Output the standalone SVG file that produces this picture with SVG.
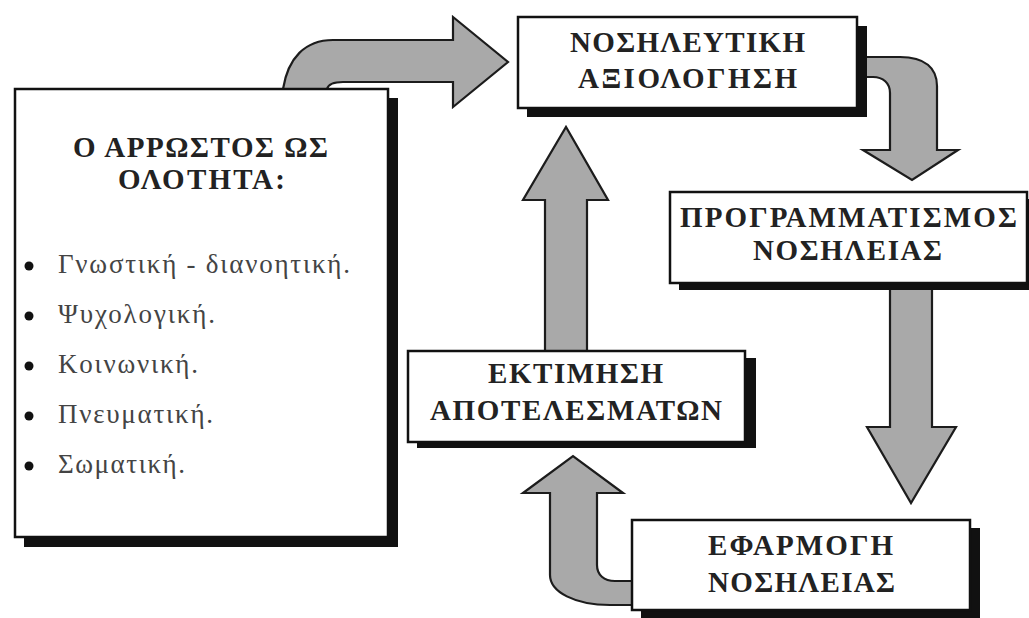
<svg xmlns="http://www.w3.org/2000/svg" width="1029" height="618" viewBox="0 0 1029 618">
<style>
.bg{fill:#ffffff}
.arrow{fill:#a9a9a9;stroke:#1c1c1c;stroke-width:2.2;stroke-linejoin:miter}
.shadow{fill:#111111}
.box{fill:#ffffff;stroke:#111111;stroke-width:2.5}
.title{font-family:"Liberation Serif","Times New Roman",serif;font-weight:bold;font-size:29px;fill:#222222}
.item{font-family:"Liberation Serif","Times New Roman",serif;font-size:27px;fill:#444444}
.dot{fill:#111111}
</style>
<rect class="bg" x="0" y="0" width="1029" height="618"/>
<g id="connectors">
<path class="arrow" d="M283,89 C288,58 305,40 333,40 L453,40 L453,17 L508,62 L453,107 L453,82 L343,82 C333,82 328,85 327,89 Z"/>
<path class="arrow" d="M862,57 L900,57 C925,57 937,68 937,86 L937,150 L958,150 L912,180 L863,150 L890,150 L890,93 C890,83 883,77 873,77 L862,77 Z"/>
<path class="arrow" d="M890,286 L932,286 L932,427 L956,427 L911,503 L867,427 L890,427 Z"/>
<path class="arrow" d="M545,353 L545,200 L523,200 L566,127 L608,200 L587,200 L587,353 Z"/>
<path class="arrow" d="M636,581 L615,581 C604,581 597,575 597,565 L597,493 L623,493 L573,456 L523,493 L550,493 L550,575 C550,592 575,605 610,605 L636,605 Z"/>
</g>
<g id="node-patient">
<rect class="shadow" x="24" y="98" width="374" height="449"/>
<rect class="box" x="15" y="89" width="373" height="448"/>
<text class="title" x="73" y="157" textLength="255" lengthAdjust="spacing">Ο ΑΡΡΩΣΤΟΣ ΩΣ</text>
<text class="title" x="118" y="189" textLength="167" lengthAdjust="spacing">ΟΛΟΤΗΤΑ:</text>
<circle class="dot" cx="29" cy="266" r="4.5"/>
<text class="item" x="58" y="273" textLength="292" lengthAdjust="spacing">Γνωστική - διανοητική.</text>
<circle class="dot" cx="29" cy="316" r="4.5"/>
<text class="item" x="58" y="323" textLength="157" lengthAdjust="spacing">Ψυχολογική.</text>
<circle class="dot" cx="29" cy="366" r="4.5"/>
<text class="item" x="58" y="373" textLength="140" lengthAdjust="spacing">Κοινωνική.</text>
<circle class="dot" cx="29" cy="416" r="4.5"/>
<text class="item" x="58" y="423" textLength="155" lengthAdjust="spacing">Πνευματική.</text>
<circle class="dot" cx="29" cy="466" r="4.5"/>
<text class="item" x="58" y="473" textLength="127" lengthAdjust="spacing">Σωματική.</text>
</g>
<g id="node-assessment">
<rect class="shadow" x="527" y="26" width="340" height="91"/>
<rect class="box" x="518" y="17" width="339" height="91"/>
<text class="title" x="570" y="52" textLength="235" lengthAdjust="spacing">ΝΟΣΗΛΕΥΤΙΚΗ</text>
<text class="title" x="578" y="88" textLength="219" lengthAdjust="spacing">ΑΞΙΟΛΟΓΗΣΗ</text>
</g>
<g id="node-planning">
<rect class="shadow" x="679" y="199" width="360" height="91"/>
<rect class="box" x="670" y="192" width="357" height="91"/>
<text class="title" x="680" y="227" textLength="337" lengthAdjust="spacing">ΠΡΟΓΡΑΜΜΑΤΙΣΜΟΣ</text>
<text class="title" x="753" y="260" textLength="189" lengthAdjust="spacing">ΝΟΣΗΛΕΙΑΣ</text>
</g>
<g id="node-evaluation">
<rect class="shadow" x="417" y="358" width="339" height="90"/>
<rect class="box" x="408" y="351" width="337" height="91"/>
<text class="title" x="488" y="383" textLength="175" lengthAdjust="spacing">ΕΚΤΙΜΗΣΗ</text>
<text class="title" x="430" y="420" textLength="292" lengthAdjust="spacing">ΑΠΟΤΕΛΕΣΜΑΤΩΝ</text>
</g>
<g id="node-implementation">
<rect class="shadow" x="641" y="528" width="339" height="95"/>
<rect class="box" x="632" y="520" width="338" height="90"/>
<text class="title" x="708" y="555" textLength="185" lengthAdjust="spacing">ΕΦΑΡΜΟΓΗ</text>
<text class="title" x="708" y="592" textLength="187" lengthAdjust="spacing">ΝΟΣΗΛΕΙΑΣ</text>
</g>
</svg>
